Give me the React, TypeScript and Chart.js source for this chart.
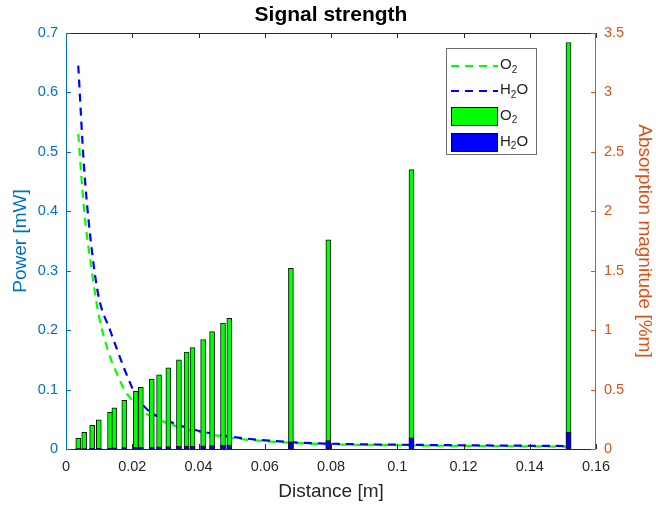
import { useEffect, useRef } from "react";
import { Chart, registerables } from "chart.js";

Chart.register(...registerables);

// Distance of each measurement point [m]
const distance = [
  0.0037, 0.0055, 0.0079, 0.0099, 0.0133, 0.0146, 0.0176, 0.0211, 0.0226, 0.0259,
  0.0281, 0.0309, 0.0341, 0.0364, 0.0382, 0.0414, 0.0441, 0.0474, 0.0493, 0.0679,
  0.0792, 0.1043, 0.1517,
];

// Received power [mW]
const powerO2 = [
  0.53, 0.4, 0.295, 0.225, 0.155, 0.137, 0.1, 0.075, 0.066, 0.054,
  0.049, 0.043, 0.037, 0.033, 0.031, 0.027, 0.024, 0.021, 0.019, 0.0105,
  0.008, 0.006, 0.004,
];
const powerH2O = [
  0.645, 0.47, 0.33, 0.255, 0.2, 0.18, 0.135, 0.09, 0.078, 0.06,
  0.054, 0.047, 0.04, 0.036, 0.033, 0.029, 0.026, 0.023, 0.021, 0.0115,
  0.009, 0.007, 0.005,
];

// Absorption magnitude [%m]
const absorptionO2 = [
  0.09, 0.14, 0.2, 0.246, 0.308, 0.347, 0.41, 0.485, 0.518, 0.588,
  0.624, 0.683, 0.75, 0.815, 0.854, 0.921, 0.988, 1.06, 1.1, 1.52,
  1.76, 2.35, 3.42,
];
const absorptionH2O = [
  0.003, 0.004, 0.005, 0.006, 0.008, 0.009, 0.011, 0.013, 0.014, 0.016,
  0.018, 0.02, 0.022, 0.024, 0.025, 0.027, 0.029, 0.031, 0.032, 0.061,
  0.07, 0.095, 0.143,
];

const xTicks = [0, 0.02, 0.04, 0.06, 0.08, 0.1, 0.12, 0.14, 0.16];
const powerTicks = [0, 0.1, 0.2, 0.3, 0.4, 0.5, 0.6, 0.7];
const absorptionTicks = [0, 0.5, 1, 1.5, 2, 2.5, 3, 3.5];

const LEFT_COLOR = "#0072BD";
const RIGHT_COLOR = "#D95319";
const AXIS_COLOR = "#262626";
const GREEN = "#00ff00";
const BLUE = "#0000ff";
const FONT = "'Liberation Sans', Arial, Helvetica, sans-serif";

const fmt = (v: number) => String(Number(Number(v).toFixed(3)));

// Box, inward tick marks and coloured y-axis lines
const framePlugin = {
  id: "frame",
  afterDatasetsDraw(chart: any) {
    const { ctx, chartArea: a, scales } = chart;
    const tl = 5;
    ctx.save();
    ctx.lineWidth = 1;
    ctx.strokeStyle = AXIS_COLOR;
    ctx.beginPath();
    ctx.moveTo(a.left, a.top + 0.5);
    ctx.lineTo(a.right, a.top + 0.5);
    ctx.moveTo(a.left, a.bottom + 0.5);
    ctx.lineTo(a.right, a.bottom + 0.5);
    for (const v of xTicks) {
      const x = Math.round(scales.x.getPixelForValue(v)) + 0.5;
      ctx.moveTo(x, a.bottom);
      ctx.lineTo(x, a.bottom - tl);
      ctx.moveTo(x, a.top);
      ctx.lineTo(x, a.top + tl);
    }
    ctx.stroke();

    ctx.strokeStyle = LEFT_COLOR;
    ctx.beginPath();
    ctx.moveTo(a.left + 0.5, a.top);
    ctx.lineTo(a.left + 0.5, a.bottom + 1);
    for (const v of powerTicks) {
      const y = Math.round(scales.y.getPixelForValue(v)) + 0.5;
      ctx.moveTo(a.left, y);
      ctx.lineTo(a.left + tl, y);
    }
    ctx.stroke();

    ctx.strokeStyle = RIGHT_COLOR;
    ctx.beginPath();
    ctx.moveTo(a.right - 0.5, a.top);
    ctx.lineTo(a.right - 0.5, a.bottom + 1);
    for (const v of absorptionTicks) {
      const y = Math.round(scales.y1.getPixelForValue(v)) + 0.5;
      ctx.moveTo(a.right, y);
      ctx.lineTo(a.right - tl, y);
    }
    ctx.stroke();
    ctx.restore();
  },
};

// Draws a chemical formula with subscripted digits
function drawFormula(ctx: CanvasRenderingContext2D, text: string, x: number, y: number) {
  let cx = x;
  for (const ch of text) {
    const isDigit = /[0-9]/.test(ch);
    ctx.font = `${isDigit ? 10 : 15}px ${FONT}`;
    ctx.fillText(ch, cx, isDigit ? y + 5 : y);
    cx += ctx.measureText(ch).width;
  }
}

const legendItems = [
  { label: "O2", kind: "line", color: GREEN },
  { label: "H2O", kind: "line", color: BLUE },
  { label: "O2", kind: "bar", color: GREEN },
  { label: "H2O", kind: "bar", color: BLUE },
];

const legendPlugin = {
  id: "boxLegend",
  afterDraw(chart: any) {
    const { ctx } = chart;
    const bx = 446.5, by = 48.5, bw = 90, bh = 106;
    ctx.save();
    ctx.fillStyle = "#ffffff";
    ctx.fillRect(bx, by, bw, bh);
    ctx.strokeStyle = "#6e6e6e";
    ctx.lineWidth = 1;
    ctx.strokeRect(bx, by, bw, bh);
    const rows = [66, 91, 116.5, 142.5];
    legendItems.forEach((it, i) => {
      const cy = rows[i];
      if (it.kind === "line") {
        ctx.strokeStyle = it.color;
        ctx.lineWidth = 2.2;
        ctx.setLineDash([8, 6]);
        ctx.beginPath();
        ctx.moveTo(451, cy);
        ctx.lineTo(498, cy);
        ctx.stroke();
        ctx.setLineDash([]);
      } else {
        ctx.fillStyle = it.color;
        ctx.fillRect(451, cy - 9.5, 47, 19);
        ctx.strokeStyle = "#000000";
        ctx.lineWidth = 1;
        ctx.strokeRect(451.5, cy - 9, 46, 18);
      }
      ctx.fillStyle = AXIS_COLOR;
      ctx.textBaseline = "middle";
      ctx.textAlign = "left";
      drawFormula(ctx, it.label, 500, cy - 1);
    });
    ctx.restore();
  },
};

export default function App() {
  const canvasRef = useRef<HTMLCanvasElement | null>(null);

  useEffect(() => {
    if (!canvasRef.current) return;
    const pts = (ys: number[]) => distance.map((x, i) => ({ x, y: ys[i] }));
    const chart = new Chart(canvasRef.current, {
      type: "bar",
      data: {
        datasets: [
          {
            type: "line",
            label: "O2",
            data: pts(powerO2),
            yAxisID: "y",
            borderColor: GREEN,
            borderWidth: 2.2,
            borderDash: [8, 6],
            pointRadius: 0,
            cubicInterpolationMode: "monotone",
            order: 4,
          } as any,
          {
            type: "line",
            label: "H2O",
            data: pts(powerH2O),
            yAxisID: "y",
            borderColor: BLUE,
            borderWidth: 2.2,
            borderDash: [8, 6],
            pointRadius: 0,
            cubicInterpolationMode: "monotone",
            order: 3,
          } as any,
          {
            type: "bar",
            label: "O2",
            data: pts(absorptionO2),
            yAxisID: "y1",
            backgroundColor: GREEN,
            borderColor: "#111111",
            borderWidth: 1,
            barThickness: 5,
            grouped: false,
            order: 2,
          } as any,
          {
            type: "bar",
            label: "H2O",
            data: pts(absorptionH2O),
            yAxisID: "y1",
            backgroundColor: BLUE,
            borderColor: "#111111",
            borderWidth: 1,
            barThickness: 5,
            grouped: false,
            order: 1,
          } as any,
        ],
      },
      options: {
        animation: false,
        responsive: true,
        maintainAspectRatio: false,
        layout: { padding: 0 },
        plugins: {
          legend: { display: false },
          tooltip: { enabled: false },
          title: {
            display: true,
            text: "Signal strength",
            color: "#000000",
            fullSize: false,
            font: { family: FONT, size: 21, weight: "bold", lineHeight: 1.2 },
            padding: { top: 3, bottom: 4.8 },
          },
        },
        scales: {
          x: {
            type: "linear",
            min: 0,
            max: 0.16,
            offset: false,
            grid: { display: false, drawTicks: false, offset: false },
            border: { display: false },
            afterFit: (s: any) => {
              s.height = 57;
            },
            afterBuildTicks: (s: any) => {
              s.ticks = xTicks.map((v) => ({ value: v }));
            },
            ticks: {
              color: AXIS_COLOR,
              padding: 9,
              maxRotation: 0,
              autoSkip: false,
              font: { family: FONT, size: 14.5 },
              callback: (v: any) => fmt(v),
            },
            title: {
              display: true,
              text: "Distance [m]",
              color: AXIS_COLOR,
              font: { family: FONT, size: 19 },
              padding: { top: 0, bottom: 3 },
            },
          },
          y: {
            type: "linear",
            position: "left",
            min: 0,
            max: 0.7,
            grid: { display: false, drawTicks: false },
            border: { display: false },
            afterFit: (s: any) => {
              s.width = 66;
            },
            afterBuildTicks: (s: any) => {
              s.ticks = powerTicks.map((v) => ({ value: v }));
            },
            ticks: {
              color: LEFT_COLOR,
              padding: 8,
              font: { family: FONT, size: 14.5 },
              callback: (v: any) => fmt(v),
            },
            title: {
              display: true,
              text: "Power [mW]",
              color: LEFT_COLOR,
              font: { family: FONT, size: 19 },
              padding: { top: 9, bottom: 0 },
            },
          },
          y1: {
            type: "linear",
            position: "right",
            min: 0,
            max: 3.5,
            grid: { display: false, drawTicks: false },
            border: { display: false },
            afterFit: (s: any) => {
              s.width = 60;
            },
            afterBuildTicks: (s: any) => {
              s.ticks = absorptionTicks.map((v) => ({ value: v }));
            },
            ticks: {
              color: RIGHT_COLOR,
              padding: 8,
              font: { family: FONT, size: 14.5 },
              callback: (v: any) => fmt(v),
            },
            title: {
              display: true,
              text: "Absorption magnitude [%m]",
              color: RIGHT_COLOR,
              font: { family: FONT, size: 19 },
              padding: { top: 0, bottom: 0 },
            },
          },
        },
      },
      plugins: [framePlugin, legendPlugin],
    });
    return () => chart.destroy();
  }, []);

  return (
    <div style={{ position: "fixed", left: 0, top: 0, width: 656, height: 506, background: "#ffffff" }}>
      <canvas ref={canvasRef} />
    </div>
  );
}
